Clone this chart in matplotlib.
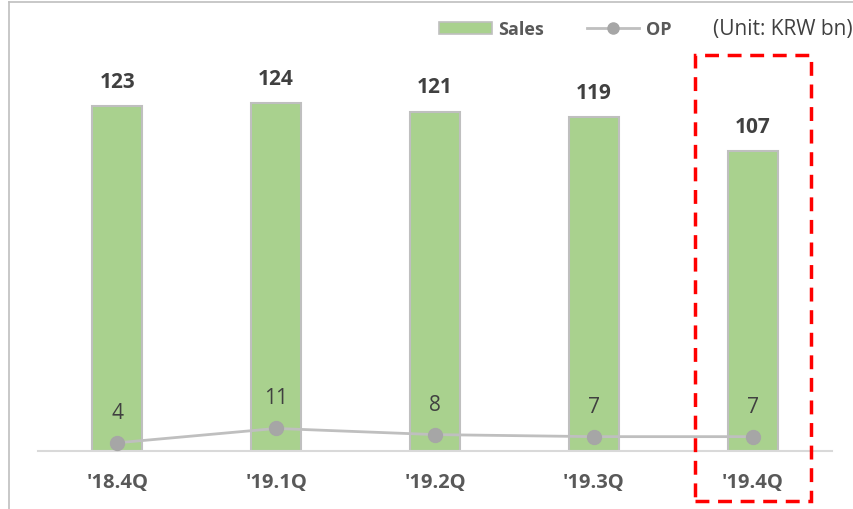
import numpy as np
import matplotlib.pyplot as plt
from matplotlib.lines import Line2D
from matplotlib.patches import Rectangle, Patch

quarters = ["'18.4Q", "'19.1Q", "'19.2Q", "'19.3Q", "'19.4Q"]
sales = [123, 124, 121, 119, 107]
op = [4, 11, 8, 7, 7]

plt.rcParams['font.family'] = ['Open Sans', 'DejaVu Sans']

BAR = '#a9d18e'
EDGE = '#bfbfbf'
LINE = '#bfbfbf'
DOT = '#a6a6a6'
TXT = '#404040'
TICK = '#595959'


def run():
    fig = plt.figure(figsize=(8.54, 5.10), dpi=100)
    ax = fig.add_axes([38 / 854, 58 / 510, 794 / 854, 412 / 510])
    x = np.arange(len(quarters))

    ax.bar(x, sales, width=0.315, color=BAR, edgecolor=EDGE, linewidth=1.5, zorder=2)
    ax.set_xlim(-0.5, len(quarters) - 0.5)
    ax.set_ylim(0, 147)
    for xi, v in zip(x, sales):
        ax.annotate(str(v), (xi, v), xytext=(0, 18), textcoords='offset points',
                    ha='center', va='center', fontsize=15, fontweight='bold', color=TXT)

    ax2 = ax.twinx()
    ax2.plot(x, op, color=LINE, linewidth=2, marker='o', markersize=10,
             markerfacecolor=DOT, markeredgecolor=DOT, zorder=3)
    ax2.set_ylim(0, 201)
    for xi, v in zip(x, op):
        ax2.annotate(str(v), (xi, v), xytext=(0, 22), textcoords='offset points',
                     ha='center', va='center', fontsize=15, color=TXT)

    for a in (ax, ax2):
        for s in a.spines.values():
            s.set_visible(False)
        a.set_yticks([])
    ax.spines['bottom'].set_visible(True)
    ax.spines['bottom'].set_color('#d9d9d9')
    ax.spines['bottom'].set_linewidth(1.5)
    ax.set_xticks(x)
    ax.set_xticklabels(quarters, fontsize=14.5, fontweight='bold', color=TICK)
    ax.tick_params(axis='x', length=0, pad=15)

    # highlight box around the latest quarter
    fig.add_artist(Rectangle((695 / 854, 8 / 510), 116 / 854, 446 / 510,
                             transform=fig.transFigure, fill=False,
                             edgecolor='#ff0000', linewidth=2.5,
                             linestyle=(0, (4, 2.5)), zorder=5))

    # frame lines
    fig.add_artist(Line2D([9 / 854, 1], [507 / 510, 507 / 510], color='#bfbfbf', linewidth=1.2))
    fig.add_artist(Line2D([9 / 854, 9 / 854], [0, 507 / 510], color='#bfbfbf', linewidth=1.2))

    handles = [Patch(facecolor=BAR, edgecolor=EDGE, linewidth=1.2),
               Line2D([0], [0], color=LINE, linewidth=2, marker='o', markersize=8,
                      markerfacecolor=DOT, markeredgecolor=DOT)]
    leg = fig.legend(handles, ['Sales', 'OP'], loc='center left',
                     bbox_to_anchor=(423 / 854, 480 / 510), ncol=2, frameon=False,
                     handlelength=2.9, handleheight=0.65, columnspacing=2.4,
                     handletextpad=0.35, prop={'size': 13, 'weight': 'bold'})
    for t in leg.get_texts():
        t.set_color(TICK)
    fig.text(853 / 854, 480 / 510, '(Unit: KRW bn)', ha='right', va='center',
             fontsize=15, color=TXT)

    fig.savefig('out.png', dpi=100)
    plt.close(fig)


if __name__ == '__main__':
    run()
